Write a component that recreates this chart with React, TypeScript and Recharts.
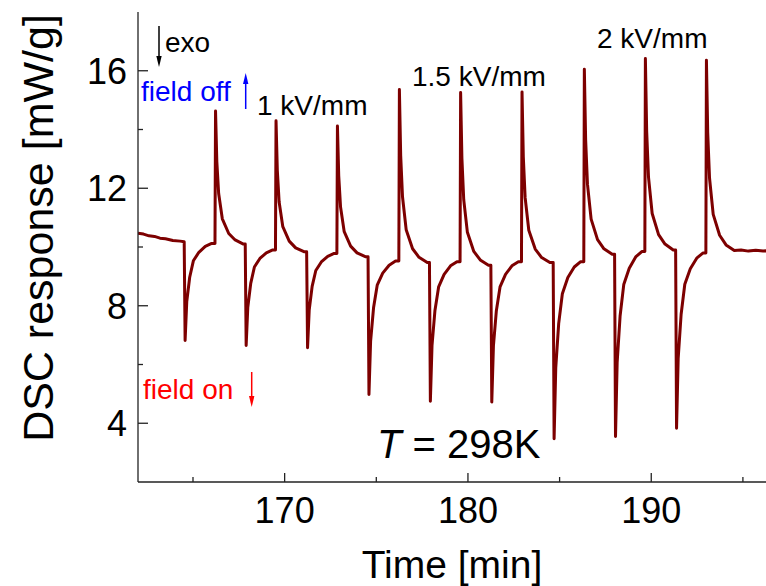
import React from 'react';
import { LineChart, Line, XAxis, YAxis } from 'recharts';

// tick positions
const xTicks = [165, 170, 175, 180, 185, 190, 195];
const xLabels = [170, 180, 190];
const yTicks = [4, 6, 8, 10, 12, 14, 16];
const yLabels = [4, 8, 12, 16];

// DSC trace [time min, response mW/g]
const lead = [
  [162, 10.47], [162.3, 10.44], [162.6, 10.38], [162.9, 10.36], [163.2, 10.3], [163.5, 10.28], [163.9, 10.22], [164.3, 10.2],
];

const kv1 = [
  [164.52, 10.18], [164.57, 6.82], [164.66, 8.14], [164.82, 8.97], [165.02, 9.53], [165.32, 9.82], [165.67, 10.02], [166.02, 10.12],
  [166.2, 10.12], [166.23, 14.63], [166.3, 12.91], [166.4, 11.82], [166.6, 10.96], [166.95, 10.46], [167.3, 10.24], [167.75, 10.1],
  [167.85, 10.1], [167.9, 6.65], [167.99, 7.95], [168.15, 8.76], [168.35, 9.32], [168.65, 9.61], [169.0, 9.8], [169.35, 9.9],
  [169.5, 9.9], [169.53, 14.3], [169.6, 12.61], [169.7, 11.53], [169.9, 10.69], [170.25, 10.2], [170.6, 9.97], [171.05, 9.84],
  [171.2, 9.84], [171.25, 6.57], [171.34, 7.85], [171.5, 8.66], [171.7, 9.2], [172.0, 9.49], [172.35, 9.68], [172.7, 9.78],
  [172.85, 9.78], [172.88, 14.12], [172.95, 12.43], [173.05, 11.36], [173.25, 10.52], [173.6, 10.03], [173.95, 9.8], [174.4, 9.67],
];

const kv15 = [
  [174.55, 9.67], [174.6, 4.98], [174.69, 6.8], [174.85, 7.93], [175.05, 8.7], [175.35, 9.11], [175.7, 9.38], [176.05, 9.52],
  [176.23, 9.52], [176.26, 15.36], [176.33, 13.12], [176.43, 11.71], [176.63, 10.59], [176.98, 9.94], [177.33, 9.65], [177.78, 9.47],
  [177.9, 9.47], [177.95, 4.75], [178.04, 6.65], [178.2, 7.84], [178.4, 8.64], [178.7, 9.07], [179.05, 9.36], [179.4, 9.5],
  [179.57, 9.5], [179.6, 15.26], [179.67, 13.03], [179.77, 11.61], [179.97, 10.5], [180.32, 9.85], [180.67, 9.56], [181.12, 9.38],
  [181.25, 9.38], [181.3, 4.72], [181.39, 6.63], [181.55, 7.83], [181.75, 8.64], [182.05, 9.07], [182.4, 9.36], [182.75, 9.5],
  [182.92, 9.5], [182.95, 15.28], [183.02, 13.07], [183.12, 11.68], [183.32, 10.57], [183.67, 9.93], [184.02, 9.64], [184.47, 9.47],
];

const kv2 = [
  [184.65, 9.47], [184.7, 3.47], [184.79, 5.88], [184.95, 7.39], [185.15, 8.41], [185.45, 8.96], [185.8, 9.32], [186.15, 9.5],
  [186.32, 9.5], [186.35, 16.05], [186.42, 13.66], [186.52, 12.14], [186.72, 10.95], [187.07, 10.25], [187.42, 9.94], [187.87, 9.75],
  [188.0, 9.75], [188.05, 3.55], [188.14, 6.07], [188.3, 7.65], [188.5, 8.72], [188.8, 9.28], [189.15, 9.66], [189.5, 9.85],
  [189.65, 9.85], [189.68, 16.42], [189.75, 13.94], [189.85, 12.38], [190.05, 11.14], [190.4, 10.42], [190.75, 10.1], [191.2, 9.9],
  [191.33, 9.9], [191.38, 3.83], [191.47, 6.22], [191.63, 7.71], [191.83, 8.73], [192.13, 9.26], [192.48, 9.62], [192.83, 9.8],
  [192.98, 9.8], [193.01, 16.36], [193.08, 13.9], [193.18, 12.34], [193.38, 11.11], [193.73, 10.4], [194.08, 10.07], [194.53, 9.88],
];

const tail = [
  [194.9, 9.9], [195.3, 9.86], [195.7, 9.89], [196.1, 9.86], [196.5, 9.88],
];

const data = [...lead, ...kv1, ...kv15, ...kv2, ...tail].map(([t, v]) => ({ t, v }));

const FONT = '"Liberation Sans", Arial, Helvetica, sans-serif';
const AX = '#222';

const BottomTick = (props: any) => {
  const { x, y, payload } = props;
  const major = xLabels.includes(payload.value);
  return (
    <g>
      <line x1={x} x2={x} y1={y} y2={y - (major ? 9 : 5)} stroke={AX} strokeWidth={1.3} />
      {major && (
        <text x={x} y={y + 41} textAnchor="middle" fontSize={36} fontFamily={FONT} fill="#000">
          {payload.value}
        </text>
      )}
    </g>
  );
};

const TopTick = (props: any) => {
  const { x, y, payload } = props;
  const major = xLabels.includes(payload.value);
  return <line x1={x} x2={x} y1={y} y2={y + (major ? 8 : 5)} stroke={AX} strokeWidth={1.3} />;
};

const LeftTick = (props: any) => {
  const { x, y, payload } = props;
  const major = yLabels.includes(payload.value);
  return (
    <g>
      <line x1={x} x2={x + (major ? 10 : 5)} y1={y} y2={y} stroke={AX} strokeWidth={1.3} />
      {major && (
        <text x={x - 11} y={y + 13} textAnchor="end" fontSize={36} fontFamily={FONT} fill="#000">
          {payload.value}
        </text>
      )}
    </g>
  );
};

export default function App() {
  return (
    <div style={{ position: 'absolute', left: 0, top: 0, width: 766, height: 586, overflow: 'hidden', background: '#fff' }}>
      <LineChart width={772} height={586} data={data} margin={{ top: 12, right: 1.6, bottom: 0, left: 0 }}>
        <XAxis
          dataKey="t"
          type="number"
          domain={[162, 196.5]}
          ticks={xTicks}
          interval={0}
          tickSize={0}
          tickMargin={0}
          tickLine={false}
          tick={<BottomTick />}
          axisLine={{ stroke: AX, strokeWidth: 1.3 }}
          height={104}
          allowDataOverflow
        />
        <XAxis
          xAxisId="top"
          orientation="top"
          dataKey="t"
          type="number"
          domain={[162, 196.5]}
          ticks={xTicks}
          interval={0}
          tickSize={0}
          tickMargin={0}
          tickLine={false}
          tick={<TopTick />}
          axisLine={{ stroke: AX, strokeWidth: 1.3 }}
          height={0}
          allowDataOverflow
        />
        <YAxis
          type="number"
          domain={[2, 18]}
          ticks={yTicks}
          interval={0}
          tickSize={0}
          tickMargin={0}
          tickLine={false}
          tick={<LeftTick />}
          axisLine={{ stroke: AX, strokeWidth: 1.3 }}
          width={138}
          allowDataOverflow
        />
        <Line
          type="linear"
          dataKey="v"
          stroke="#7d0000"
          strokeWidth={3}
          strokeLinejoin="round"
          dot={false}
          isAnimationActive={false}
        />
      </LineChart>
      <svg
        width={766}
        height={586}
        style={{ position: 'absolute', left: 0, top: 0, pointerEvents: 'none' }}
        fontFamily={FONT}
      >
        <text x={165} y={52} fontSize={28} fill="#000">exo</text>
        <line x1={159} x2={159} y1={26} y2={58} stroke="#000" strokeWidth={1.5} />
        <polygon points="156.3,56 161.7,56 159,67" fill="#000" />

        <text x={141} y={101} fontSize={28} fill="#0000ff">field off</text>
        <line x1={245.7} x2={245.7} y1={109} y2={83} stroke="#0000ff" strokeWidth={1.5} />
        <polygon points="243,84 248.4,84 245.7,73" fill="#0000ff" />

        <text x={143} y={399} fontSize={28} fill="#ff0000">field on</text>
        <line x1={251.7} x2={251.7} y1={372} y2={397} stroke="#ff0000" strokeWidth={1.5} />
        <polygon points="249,396 254.4,396 251.7,407" fill="#ff0000" />

        <text x={257} y={115} fontSize={28} fill="#000">1 kV/mm</text>
        <text x={412} y={86} fontSize={28} fill="#000">1.5 kV/mm</text>
        <text x={597} y={48} fontSize={28} fill="#000">2 kV/mm</text>

        <text x={377} y={458} fontSize={40} fill="#000">
          <tspan fontStyle="italic">T</tspan> = 298K
        </text>

        <text x={452} y={578} fontSize={39} textAnchor="middle" fill="#000">Time [min]</text>
        <text
          x={0}
          y={0}
          transform="translate(53,228) rotate(-90)"
          fontSize={43}
          textAnchor="middle"
          fill="#000"
        >
          DSC response [mW/g]
        </text>
      </svg>
    </div>
  );
}
